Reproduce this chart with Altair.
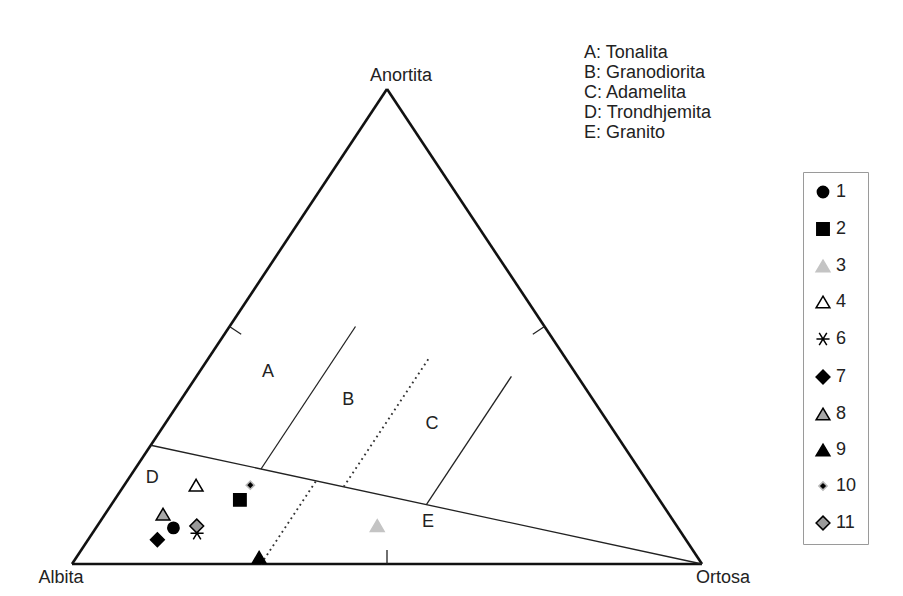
import altair as alt
import pandas as pd
import numpy as np

# ---------------- data ----------------
vertex_names = ["Albita", "Ortosa", "Anortita"]

field_letters = ["A", "B", "C", "D", "E"]
field_names = ["Tonalita", "Granodiorita", "Adamelita", "Trondhjemita", "Granito"]
# approximate centre of each field label (Anortita %, Ortosa %)
field_an = [40.4, 34.5, 29.5, 18.1, 8.8]
field_or = [10.9, 26.6, 42.4, 3.7, 52.1]

# samples: Anortita %, Ortosa % (Albita = remainder)
sample_ids = ["1", "2", "3", "4", "6", "7", "8", "9", "10", "11"]
sample_an = [7.6, 13.5, 8.1, 16.6, 6.5, 5.1, 10.5, 1.4, 16.6, 8.0]
sample_or = [12.3, 19.9, 44.4, 11.4, 16.6, 11.0, 9.2, 29.0, 20.0, 15.8]

# field boundaries (start An, start Or, end An, end Or)
solid_an1 = [25.0, 20.0, 12.5]
solid_or1 = [0.0, 20.0, 50.0]
solid_an2 = [0.0, 50.0, 39.5]
solid_or2 = [100.0, 20.0, 50.0]

dot_an1 = [16.25, 0.0]
dot_or1 = [35.0, 30.0]
dot_an2 = [43.5, 17.5]
dot_or2 = [35.0, 30.0]

# ---------------- helpers ----------------
W, H = 630, 475


def tx(an, orr):
    return np.asarray(orr, float) / 100 + np.asarray(an, float) / 200


def ty(an):
    return np.asarray(an, float) / 100


xs = alt.Scale(domain=[0, 1], nice=False, zero=False)
ys = alt.Scale(domain=[0, 1], nice=False, zero=False)


def X(f):
    return alt.X(f, type="quantitative", scale=xs, axis=None)


def Y(f):
    return alt.Y(f, type="quantitative", scale=ys, axis=None)


FONT = "Liberation Sans"
INK = "#222222"

# triangle edges
v_an = [0, 0, 100]
v_or = [0, 100, 0]
edges = pd.DataFrame({
    "x": tx([v_an[0], v_an[1], v_an[2]], [v_or[0], v_or[1], v_or[2]]),
    "y": ty([v_an[0], v_an[1], v_an[2]]),
    "x2": tx([v_an[1], v_an[2], v_an[0]], [v_or[1], v_or[2], v_or[0]]),
    "y2": ty([v_an[1], v_an[2], v_an[0]]),
})

# ticks at mid-sides, perpendicular inward (pixel space)
TICK = 14.0
mid = [(0, 50), (50, 0), (50, 50)]
normals = []
for p, q in [((0, 0), (0, 100)), ((0, 0), (100, 0)), ((100, 0), (0, 100))]:
    x1, y1 = tx(p[0], p[1]) * W, -ty(p[0]) * H
    x2, y2 = tx(q[0], q[1]) * W, -ty(q[0]) * H
    dxp, dyp = x2 - x1, y2 - y1
    n = np.hypot(dxp, dyp)
    normals.append((-dyp / n, dxp / n))
cx, cy = tx(33.3, 33.3) * W, -ty(33.3) * H
tick_rows = []
for (an, orr), (nx, ny) in zip(mid, normals):
    px, py = tx(an, orr) * W, -ty(an) * H
    if (cx - px) * nx + (cy - py) * ny < 0:
        nx, ny = -nx, -ny
    tick_rows.append({"x": px / W, "y": -py / H,
                      "x2": (px + nx * TICK) / W, "y2": -(py + ny * TICK) / H})
ticks = pd.DataFrame(tick_rows)

solid = pd.DataFrame({"x": tx(solid_an1, solid_or1), "y": ty(solid_an1),
                      "x2": tx(solid_an2, solid_or2), "y2": ty(solid_an2)})
dotted = pd.DataFrame({"x": tx(dot_an1, dot_or1), "y": ty(dot_an1),
                       "x2": tx(dot_an2, dot_or2), "y2": ty(dot_an2)})

fields = pd.DataFrame({"t": field_letters, "x": tx(field_an, field_or), "y": ty(field_an)})

samples = pd.DataFrame({"id": sample_ids, "x": tx(sample_an, sample_or), "y": ty(sample_an)})

verts = pd.DataFrame({"t": vertex_names, "x": tx(v_an, v_or), "y": ty(v_an)})

# ---------------- styling of samples ----------------
CIRCLE = "M0.82,0A0.82,0.82 0 1,1 -0.82,0A0.82,0.82 0 1,1 0.82,0Z"
SQUARE = "M-0.9,-0.9L0.9,-0.9L0.9,0.9L-0.9,0.9Z"
TRI = "M0,-0.85L1,0.85L-1,0.85Z"
DIAM = "M0,-1L1,0L0,1L-1,0Z"
SMALLDIAM = "M0,-0.6L0.6,0L0,0.6L-0.6,0Z"
AST = "M-0.95,0L0.95,0M-0.55,-0.9L0.55,0.9M-0.55,0.9L0.55,-0.9"

shapes = [CIRCLE, SQUARE, TRI, TRI, AST, DIAM, TRI, TRI, SMALLDIAM, DIAM]
fills = ["#000000", "#000000", "#c4c4c4", "#ffffff", "transparent", "#000000",
         "#a8a8a8", "#000000", "#000000", "#9a9a9a"]
strokes = ["#000000", "#000000", "#c4c4c4", "#000000", "#000000", "#000000",
           "#000000", "#000000", "#b8b8b8", "#000000"]

leg = alt.Legend(
    title=None, orient="none", legendX=731, legendY=83,
    strokeColor="#9a9a9a", fillColor="#ffffff", padding=11,
    rowPadding=18, labelFont=FONT, labelFontSize=18, labelColor=INK,
    labelOffset=4, symbolSize=190, symbolStrokeWidth=1.5,
)

base_edges = alt.Chart(edges).mark_rule(color="#111111", strokeWidth=2.6).encode(
    x=X("x"), y=Y("y"), x2="x2", y2="y2")
tick_layer = alt.Chart(ticks).mark_rule(color=INK, strokeWidth=1.3).encode(
    x=X("x"), y=Y("y"), x2="x2", y2="y2")
solid_layer = alt.Chart(solid).mark_rule(color=INK, strokeWidth=1.3).encode(
    x=X("x"), y=Y("y"), x2="x2", y2="y2")
dot_layer = alt.Chart(dotted).mark_rule(color="#333333", strokeWidth=1.9,
                                        strokeDash=[1.8, 3.6]).encode(
    x=X("x"), y=Y("y"), x2="x2", y2="y2")

field_text = alt.Chart(fields).mark_text(font=FONT, fontSize=18, color=INK).encode(
    x=X("x"), y=Y("y"), text="t")

vert_dx = {"Albita": -11, "Ortosa": 21, "Anortita": 14}
vert_dy = {"Albita": 14, "Ortosa": 14, "Anortita": -13}
vert_layers = []
for name in vertex_names:
    vert_layers.append(
        alt.Chart(verts[verts.t == name]).mark_text(
            font=FONT, fontSize=18, color=INK, baseline="middle",
            dx=vert_dx[name], dy=vert_dy[name]).encode(x=X("x"), y=Y("y"), text="t"))

legend_lines = [f"{a}: {b}" for a, b in zip(field_letters, field_names)]
key_df = pd.DataFrame({"t": ["\n".join(legend_lines)], "x": [(584 - 72) / W], "y": [(564 - 44) / H]})
key_text = alt.Chart(key_df).mark_text(
    font=FONT, fontSize=18, color=INK, align="left", baseline="top",
    lineBreak="\n", lineHeight=20).encode(x=X("x"), y=Y("y"), text="t")

points = alt.Chart(samples).mark_point(opacity=1, size=190, strokeWidth=1.5).encode(
    x=X("x"), y=Y("y"),
    shape=alt.Shape("id:N", scale=alt.Scale(domain=sample_ids, range=shapes), legend=leg),
    fill=alt.Fill("id:N", scale=alt.Scale(domain=sample_ids, range=fills), legend=leg),
    stroke=alt.Stroke("id:N", scale=alt.Scale(domain=sample_ids, range=strokes), legend=leg),
)

chart = alt.layer(
    base_edges, tick_layer, solid_layer, dot_layer, field_text, *vert_layers, key_text, points
).properties(
    width=W, height=H,
    background="#ffffff",
    autosize=alt.AutoSizeParams(type="none"),
    padding={"left": 64, "top": 81, "right": 190, "bottom": 24},
).configure_view(strokeWidth=0, stroke="transparent")

chart.save("out.html", embed_options={"renderer": "svg", "actions": False})
